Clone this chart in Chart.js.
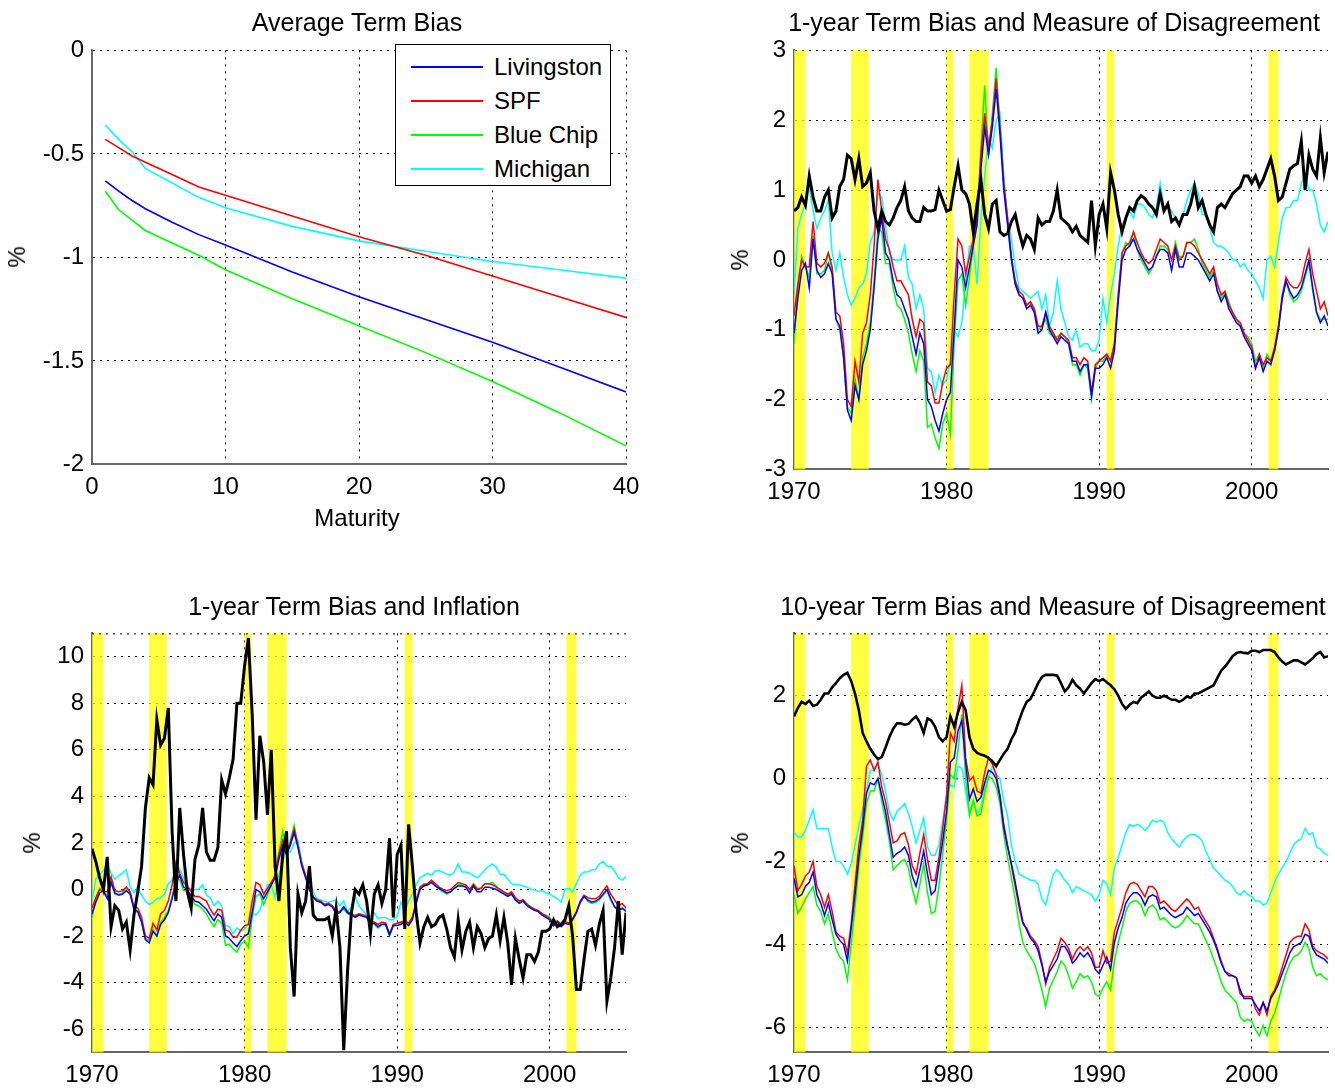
<!DOCTYPE html>
<html>
<head>
<meta charset="utf-8">
<script src="https://cdn.jsdelivr.net/npm/chart.js@4.4.0/dist/chart.umd.min.js"></script>
<style>
body { margin:0; background:#fff; width:1335px; height:1088px; position:relative; overflow:hidden; font-family:"Liberation Sans", Arial, sans-serif; color:#000; }
canvas { position:absolute; }
.title { position:absolute; font-size:25px; white-space:nowrap; transform:translate(-50%,-50%); }
.ylab { position:absolute; font-size:24px; transform:translate(-50%,-50%) rotate(-90deg); }
.xlab { position:absolute; font-size:24px; transform:translate(-50%,-50%); }
#legend { position:absolute; left:395px; top:44px; width:214px; height:140px; border:1px solid #000; background:#fff; }
#legend .ln { position:absolute; left:15px; width:72px; height:2px; }
#legend .tx { position:absolute; left:98px; font-size:24px; transform:translateY(-50%); white-space:nowrap; }
</style>
</head>
<body>
<canvas id="avg"></canvas>
<canvas id="dis1"></canvas>
<canvas id="infl"></canvas>
<canvas id="dis10"></canvas>

<div class="title" style="left:357px;top:22px">Average Term Bias</div>
<div class="title" style="left:1054px;top:22px">1-year Term Bias and Measure of Disagreement</div>
<div class="title" style="left:354px;top:606px">1-year Term Bias and Inflation</div>
<div class="title" style="left:1053px;top:606px">10-year Term Bias and Measure of Disagreement</div>
<div class="ylab" style="left:17px;top:257px">%</div>
<div class="ylab" style="left:740px;top:260px">%</div>
<div class="ylab" style="left:32px;top:843px">%</div>
<div class="ylab" style="left:740px;top:843px">%</div>
<div class="xlab" style="left:357px;top:518px">Maturity</div>
<div id="legend"></div>

<script>
// ---- data ----
const seriesNames = ["Livingston", "SPF", "Blue Chip", "Michigan"]
const seriesColors = ["#0000ff", "#ff0000", "#00ff00", "#00ffff"]

// average term bias by maturity (years)
const maturities = [1, 2, 3, 4, 6, 8, 10, 15, 20, 25, 30, 35, 40]
const avgLivingston = [-0.63, -0.68, -0.725, -0.765, -0.83, -0.89, -0.94, -1.07, -1.19, -1.30, -1.41, -1.53, -1.65]
const avgSPF = [-0.43, -0.47, -0.51, -0.54, -0.60, -0.66, -0.70, -0.80, -0.90, -0.99, -1.09, -1.19, -1.29]
const avgBlueChip = [-0.68, -0.77, -0.82, -0.87, -0.93, -0.99, -1.06, -1.20, -1.33, -1.46, -1.60, -1.75, -1.91]
const avgMichigan = [-0.36, -0.43, -0.49, -0.57, -0.64, -0.71, -0.76, -0.85, -0.92, -0.97, -1.02, -1.06, -1.10]

// quarterly dates 1970Q1 .. 2005Q1
const quarters = []
for (let q = 0; q <= 140; q++) quarters.push(1970 + q / 4)

// recessions (shaded)
const recessions = [[1970.0, 1970.75], [1973.75, 1974.9], [1980.0, 1980.45], [1981.5, 1982.75], [1990.5, 1991.0], [2001.1, 2001.75]]

// 1-year term bias, quarterly
const liv1y = [
  -1.05, -0.55, -0.15, -0.05,
  -0.4, 0.3, -0.15, -0.25,
  -0.2, -0.05, -0.2, -0.85,
  -0.95, -1.4, -2.15, -2.3,
  -1.8, -2.0, -1.5, -1.3,
  -1.0, -0.4, 0.3, 0.6,
  0.1, 0.0, -0.3, -0.5,
  -0.55, -0.7, -0.85, -1.1,
  -1.35, -1.05, -1.2, -2.0,
  -2.1, -2.3, -2.45, -2.2,
  -2.0, -1.9, -1.0, 0.0,
  -0.1, -0.4, -0.1, 0.2,
  0.5, 1.3, 1.9, 1.5,
  1.9, 2.45, 1.8, 1.0,
  0.5, 0.0, -0.35, -0.5,
  -0.55, -0.7, -0.65, -0.75,
  -1.05, -1.0, -0.75, -1.0,
  -1.1, -1.2, -1.1, -1.15,
  -1.2, -1.45, -1.45, -1.6,
  -1.5, -1.5, -1.95, -1.55,
  -1.55, -1.5, -1.4, -1.55,
  -1.3, -0.6, 0.0, 0.15,
  0.2, 0.3, 0.15, 0.05,
  -0.05, -0.15, -0.1, 0.05,
  0.15, 0.15, 0.1, -0.15,
  0.15, -0.1, -0.1, 0.1,
  0.1, 0.05, 0.0, -0.1,
  -0.2, -0.3, -0.2, -0.45,
  -0.6, -0.5, -0.7, -0.8,
  -0.9, -0.95, -1.1, -1.2,
  -1.3, -1.55, -1.4, -1.6,
  -1.45, -1.5, -1.3, -1.0,
  -0.55, -0.3, -0.45, -0.55,
  -0.5, -0.4, -0.2, 0.0,
  -0.4, -0.75, -0.9, -0.8,
  -0.95
]
const spf1y = [
  -0.8, -0.35, 0.0, -0.1,
  -0.1, 0.55, -0.05, -0.1,
  -0.05, 0.1, -0.1, -0.75,
  -0.8, -1.2, -2.0, -2.1,
  -1.45, -1.75, -1.05, -0.9,
  -0.5, 0.2, 1.15, 0.7,
  0.3, 0.15, -0.1, -0.3,
  -0.3, -0.4, -0.5, -0.85,
  -1.1, -0.85, -0.9, -1.75,
  -1.8, -2.05, -2.05, -1.75,
  -1.55, -1.5, -0.5, 0.3,
  0.2, -0.2, 0.05, 0.3,
  0.6, 1.5, 2.1, 1.6,
  2.0, 2.6, 1.9, 1.1,
  0.6, 0.05, -0.3, -0.45,
  -0.5, -0.65, -0.6, -0.7,
  -0.95, -0.95, -0.75, -0.95,
  -1.05, -1.15, -1.05, -1.1,
  -1.15, -1.4, -1.4, -1.5,
  -1.4, -1.45, -1.9, -1.5,
  -1.45, -1.4, -1.35, -1.45,
  -1.2, -0.5, 0.1, 0.2,
  0.25, 0.4, 0.25, 0.1,
  0.0, -0.05, 0.0, 0.15,
  0.3, 0.25, 0.2, 0.0,
  0.2, 0.0, 0.05, 0.25,
  0.25, 0.2, 0.1, 0.0,
  -0.1, -0.2, -0.1, -0.35,
  -0.5, -0.45, -0.65, -0.75,
  -0.85, -0.9, -1.05, -1.15,
  -1.25, -1.55, -1.35, -1.5,
  -1.4, -1.45, -1.25, -0.95,
  -0.5, -0.25, -0.35, -0.4,
  -0.4, -0.3, -0.05, 0.15,
  -0.2, -0.45, -0.7, -0.6,
  -0.8
]
const bc1y = [
  -1.2, -0.4, 0.05, -0.1,
  -0.25, 0.35, -0.2, -0.2,
  -0.15, 0.1, -0.15, -0.85,
  -1.0, -1.4, -2.1, -2.2,
  -1.7, -2.0, -1.4, -1.2,
  -0.9, -0.3, 0.45, 0.4,
  -0.05, -0.05, -0.4, -0.65,
  -0.7, -0.85, -1.05, -1.35,
  -1.6, -1.3, -1.45, -2.4,
  -2.35, -2.55, -2.7, -2.35,
  -2.2, -2.5, -1.2, -0.3,
  -0.2, -0.65, -0.25, 0.2,
  0.6, 1.6, 2.5, 1.5,
  2.1, 2.75, 1.95, 1.1,
  0.55, 0.0, -0.35, -0.5,
  -0.55, -0.65, -0.6, -0.7,
  -1.0, -0.95, -0.85, -1.05,
  -1.1, -1.1, -1.05, -1.1,
  -1.2, -1.5, -1.5, -1.65,
  -1.5, -1.55, -2.0, -1.55,
  -1.45, -1.45, -1.35, -1.45,
  -1.2, -0.5, 0.1, 0.25,
  0.2, 0.4, 0.15, 0.0,
  -0.1, -0.2, -0.1, 0.05,
  0.2, 0.2, 0.15, 0.0,
  0.25, 0.05, 0.05, 0.25,
  0.25, 0.3, 0.15, -0.05,
  -0.15, -0.25, -0.15, -0.45,
  -0.55, -0.45, -0.6, -0.75,
  -0.85, -0.95, -1.05, -1.1,
  -1.2, -1.45, -1.35, -1.55,
  -1.35, -1.45, -1.3, -1.0,
  -0.55, -0.3, -0.5, -0.6,
  -0.55, -0.45, -0.25, -0.05,
  -0.45, -0.75, -0.85, -0.85,
  -0.85
]
const mich1y = [
  -0.5, 0.45, 0.65, 0.8,
  1.05, 0.7, 0.45, 0.6,
  0.7, 0.85, 0.1, -0.15,
  0.1, -0.25, -0.5, -0.65,
  -0.55, -0.4, -0.35, -0.2,
  0.25, 0.4, 0.95, 0.9,
  0.5, 0.1, 0.0, 0.0,
  0.0, 0.2, -0.25, -0.35,
  -0.7, -0.5, -0.7, -1.55,
  -1.6, -1.9, -1.65, -1.8,
  -1.7, -1.45, -1.0, -1.1,
  -0.9, -0.3, 0.2, 0.2,
  -0.35, 0.6, 1.2, 1.75,
  1.6, 2.0, 2.1, 1.2,
  0.6, 0.3, -0.1, -0.4,
  -0.45, -0.5, -0.55, -0.5,
  -0.45, -0.7, -0.5, -0.95,
  -0.75, -0.3, -0.7, -0.9,
  -1.1, -1.15, -1.0, -1.25,
  -1.2, -1.2, -1.3, -1.3,
  -1.15, -0.55, -0.9, -0.5,
  -0.2, 0.2, 0.5, 0.6,
  0.7, 0.6, 0.8, 0.8,
  0.75, 0.65, 0.6, 0.75,
  1.1, 0.75, 0.75, 0.7,
  0.6, 0.5, 0.65, 0.85,
  1.0, 1.1, 0.95, 0.65,
  0.65, 0.45, 0.25, 0.2,
  0.2, 0.15, 0.1, 0.0,
  0.0, -0.1, -0.05, -0.15,
  -0.2, -0.3, -0.4, -0.55,
  0.0, 0.05, -0.1, 0.25,
  0.6, 0.75, 0.75, 0.85,
  0.85, 1.1, 1.2, 1.0,
  1.0, 0.8, 0.5, 0.4,
  0.55
]
// measure of disagreement, 1-year
const disagree1y = [
  0.7, 0.75, 0.9, 0.78,
  1.2, 0.9, 0.7, 0.7,
  0.9, 1.0, 0.6, 0.7,
  1.05, 1.15, 1.5, 1.45,
  1.15, 1.45, 1.05, 1.1,
  1.25, 0.7, 0.45, 0.7,
  0.55, 0.5, 0.6, 0.75,
  0.85, 1.05, 0.7, 0.6,
  0.55, 0.55, 0.75, 0.7,
  0.7, 0.72, 1.0, 0.85,
  0.7, 0.72, 1.05, 1.35,
  1.0, 0.95, 0.8, 0.4,
  0.8, 1.15, 0.65, 0.45,
  0.8, 0.85, 0.4, 0.35,
  0.38, 0.55, 0.65, 0.4,
  0.2, 0.35, 0.3, 0.15,
  0.6, 0.5, 0.55, 0.55,
  0.7, 1.0, 0.6, 0.55,
  0.5, 0.4, 0.48, 0.35,
  0.3, 0.25, 0.85, 0.2,
  0.65, 0.8, 0.45, 1.25,
  1.0, 0.65, 0.4, 0.6,
  0.75, 0.7, 0.85, 0.92,
  0.88, 0.8, 0.75, 0.65,
  0.95, 0.7, 0.8, 0.55,
  0.6, 0.5, 0.65, 0.65,
  0.8, 1.05, 0.75, 0.85,
  0.65, 0.5, 0.4, 0.75,
  0.8, 0.75, 0.85, 0.95,
  1.0, 1.05, 1.2, 1.2,
  1.1, 1.2, 1.05, 1.15,
  1.3, 1.45, 1.2, 0.85,
  0.9, 1.1, 1.3, 1.35,
  1.38, 1.7, 1.0, 1.5,
  1.3, 1.2, 1.75, 1.25,
  1.55
]
// inflation
const inflation = [
  1.75, 1.2, 0.5, 0.0,
  1.4, -1.6, -0.7, -0.9,
  -1.7, -1.4, -2.6, -1.1,
  -0.1, 1.0, 3.5, 4.8,
  4.5, 7.3, 6.2, 6.5,
  7.8, 2.5, -0.5, 3.5,
  1.5, -0.1, -0.8, 1.3,
  1.9, 3.5, 1.6, 1.25,
  1.25, 1.8, 4.7, 4.1,
  4.8, 5.6, 8.0, 8.0,
  9.6, 10.8, 7.5, 3.0,
  6.6, 5.5, 3.2, 6.0,
  1.0, -0.5, 1.5, 2.5,
  -2.5, -4.6, -0.2, -1.0,
  -0.5, 1.0, -1.1, -1.3,
  -1.3, -1.3, -1.2, -2.0,
  -0.8, -2.5, -6.9, -3.5,
  -1.0, 0.0, -0.2, 0.2,
  -0.5, -1.9, -0.2, 0.2,
  -0.6, 0.0, 2.2, -1.2,
  1.5, 1.9, -1.7, 2.8,
  1.0, -1.0, -2.3, -1.6,
  -1.2, -1.6, -1.5, -1.2,
  -1.1, -1.7, -2.5, -2.9,
  -1.3, -2.6, -1.8, -1.4,
  -2.5, -1.6, -1.9, -2.5,
  -2.1, -2.0, -1.1, -2.2,
  -1.2, -2.3, -4.1, -2.1,
  -3.0, -3.8, -2.8, -2.8,
  -3.1, -2.7, -1.8, -1.8,
  -1.7, -1.3, -1.6, -1.5,
  -1.3, -0.7, -2.0, -4.3,
  -4.3, -3.0, -1.8, -1.7,
  -2.4, -1.5, -0.9, -4.8,
  -3.8, -2.5, -0.5, -2.8,
  -1.0
]

// 10-year term bias, quarterly
const liv10y = [
  -2.4, -2.85, -2.8, -2.6,
  -2.5, -2.25, -2.8, -3.0,
  -3.3, -3.0, -3.4, -3.75,
  -3.9, -4.0, -4.4, -3.6,
  -2.8, -1.9, -1.2, -0.35,
  -0.1, -0.15, 0.0, -0.4,
  -0.8, -1.35, -1.9, -1.8,
  -1.75, -1.65, -1.85, -2.35,
  -2.6, -2.2, -1.75, -2.3,
  -2.8, -2.7, -2.1, -1.5,
  -0.8, 0.4, 0.5, 1.15,
  1.4, 0.4, -0.5, -0.25,
  -0.55, -0.45, -0.1, 0.2,
  0.15, 0.0, -0.45, -1.2,
  -1.65, -2.05, -2.5, -3.0,
  -3.45, -3.65, -3.85, -3.95,
  -4.15, -4.5, -4.9, -4.65,
  -4.5, -4.35, -4.05, -4.05,
  -4.2, -4.45, -4.35, -4.2,
  -4.3, -4.2, -4.35, -4.6,
  -4.7, -4.5, -4.3, -4.6,
  -3.95, -3.6, -3.35, -3.0,
  -2.85, -2.75, -2.75, -2.85,
  -3.05, -2.85, -2.8, -2.85,
  -3.15, -3.1, -3.2, -3.3,
  -3.35, -3.3, -3.25, -3.1,
  -3.2, -3.3, -3.25, -3.4,
  -3.55, -3.7, -3.9, -4.15,
  -4.45, -4.65, -4.75, -4.75,
  -4.8, -5.1, -5.3, -5.3,
  -5.3, -5.45, -5.6, -5.4,
  -5.6, -5.3, -5.15, -4.95,
  -4.7, -4.45, -4.2, -4.05,
  -4.0, -3.95, -3.75, -3.8,
  -4.1, -4.25, -4.3, -4.35,
  -4.45
]
const spf10y = [
  -2.1, -2.7, -2.55, -2.35,
  -2.25, -2.0, -2.6, -2.8,
  -3.1, -2.8, -3.2, -3.7,
  -3.8, -3.85, -4.2, -3.5,
  -2.55, -1.6, -1.0, 0.3,
  0.45, 0.2, 0.4, -0.2,
  -0.55, -1.05, -1.55, -1.5,
  -1.35, -1.3, -1.6, -2.1,
  -2.3, -1.8, -1.35, -1.95,
  -2.45, -2.45, -1.9, -1.2,
  -0.4, 1.1, 0.9, 1.7,
  2.25, 0.5, -0.05, 0.05,
  -0.3, -0.35, 0.15, 0.5,
  0.35, 0.1, -0.4, -1.1,
  -1.6, -2.1, -2.6, -3.1,
  -3.5, -3.6, -3.8, -3.9,
  -4.05, -4.45, -4.95, -4.55,
  -4.35, -4.15, -3.85, -3.95,
  -4.1, -4.35, -4.15, -4.05,
  -4.15, -4.05, -4.2, -4.55,
  -4.55, -4.15, -4.45, -4.4,
  -3.7, -3.4, -3.1, -2.75,
  -2.55, -2.5, -2.55, -2.7,
  -2.85, -2.6, -2.6, -2.7,
  -3.0, -2.95, -3.05, -3.15,
  -3.2, -3.1, -3.0, -2.9,
  -3.0, -3.15, -3.1, -3.3,
  -3.45, -3.6, -3.85, -4.1,
  -4.4, -4.65, -4.7, -4.75,
  -4.8, -5.2, -5.25, -5.25,
  -5.25, -5.55, -5.7, -5.4,
  -5.7, -5.25, -5.1, -4.85,
  -4.55, -4.25, -3.95, -3.85,
  -3.8, -3.8, -3.5, -3.65,
  -4.05, -4.15, -4.2, -4.25,
  -4.35
]
const bc10y = [
  -2.8, -3.25, -3.1, -2.9,
  -2.75, -2.6, -3.05, -3.2,
  -3.5, -3.25, -3.7, -4.1,
  -4.3, -4.4, -4.85, -4.0,
  -3.1, -2.1, -1.4, -0.6,
  -0.3, -0.3, 0.0, -0.55,
  -1.0, -1.5, -2.2, -2.1,
  -2.0, -1.95, -2.15, -2.65,
  -3.0, -2.55, -2.05, -2.75,
  -3.25, -3.2, -2.6, -1.8,
  -1.0, 0.1, 0.0, 0.7,
  1.55, 0.0, -0.85, -0.55,
  -0.9, -0.85, -0.35, 0.05,
  0.0, -0.2, -0.6, -1.35,
  -1.9, -2.4, -2.9, -3.5,
  -3.95, -4.15, -4.3, -4.45,
  -4.75, -5.1, -5.5, -5.05,
  -4.85, -4.65, -4.4, -4.5,
  -4.75, -5.05, -4.9, -4.7,
  -4.8, -4.75, -4.9, -5.2,
  -5.25, -5.05, -4.9, -5.1,
  -4.4, -3.95, -3.6, -3.2,
  -3.0, -2.95, -2.95, -3.05,
  -3.3, -3.1, -3.05, -3.15,
  -3.4, -3.35, -3.45, -3.55,
  -3.6, -3.55, -3.45, -3.3,
  -3.4, -3.5, -3.5, -3.7,
  -3.9, -4.1, -4.35, -4.6,
  -4.9, -5.1, -5.2, -5.3,
  -5.4, -5.75, -5.85, -5.8,
  -5.85, -6.05, -6.2, -5.95,
  -6.2, -5.85, -5.65, -5.35,
  -5.0, -4.7, -4.45, -4.3,
  -4.25, -4.15, -3.95, -4.1,
  -4.55, -4.75, -4.7, -4.8,
  -4.85
]
const mich10y = [
  -1.3, -1.4, -1.4, -1.25,
  -1.0, -0.75, -1.2, -1.2,
  -1.2, -1.2, -1.65, -2.0,
  -2.0, -2.1, -2.3, -2.05,
  -1.6, -1.15, -0.75, -0.3,
  0.2, 0.2, 0.35, 0.1,
  -0.3, -0.8, -1.0, -0.8,
  -0.7, -0.6, -0.85, -1.15,
  -1.55, -1.25, -0.95, -1.65,
  -1.85, -1.85, -1.6, -1.0,
  -0.4, -0.15, -0.2, 0.3,
  0.25, -0.3, -0.9, -0.5,
  -0.85, -0.7, -0.25, 0.0,
  0.3, 0.1, 0.0, -0.55,
  -0.9, -1.6, -2.0, -2.3,
  -2.35, -2.4, -2.45, -2.45,
  -2.55, -2.9, -3.05, -2.65,
  -2.3, -2.2, -2.3, -2.45,
  -2.55, -2.75, -2.6, -2.65,
  -2.7, -2.75, -2.8, -2.95,
  -2.8, -2.45, -2.55, -2.8,
  -2.15, -1.9, -1.6, -1.3,
  -1.1, -1.15, -1.1, -1.15,
  -1.25, -1.15, -1.0, -1.05,
  -1.0, -1.05, -1.3, -1.45,
  -1.55, -1.65, -1.5, -1.4,
  -1.35, -1.35, -1.4, -1.5,
  -1.75, -1.95, -2.15, -2.25,
  -2.35, -2.45, -2.5, -2.6,
  -2.75, -2.8, -2.7, -2.8,
  -2.85, -2.95, -2.95, -3.05,
  -3.0, -2.75, -2.5, -2.3,
  -2.15, -2.0, -1.8, -1.6,
  -1.5, -1.45, -1.2, -1.35,
  -1.3, -1.65, -1.7, -1.8,
  -1.85
]
// measure of disagreement, 10-year
const disagree10y = [
  1.5, 1.7, 1.85, 1.8,
  1.88, 1.75, 1.78, 1.9,
  2.05, 2.05, 2.2, 2.3,
  2.42, 2.5, 2.55, 2.35,
  2.05, 1.65, 1.1, 0.9,
  0.72, 0.58, 0.47, 0.52,
  0.75, 1.0, 1.2, 1.33,
  1.33, 1.3, 1.32, 1.42,
  1.5, 1.35, 1.1, 1.45,
  1.4, 1.25, 1.0, 0.9,
  1.0, 1.5, 1.25, 1.6,
  1.85, 1.65, 1.0, 0.72,
  0.62, 0.58, 0.55, 0.5,
  0.42, 0.3, 0.45, 0.6,
  0.72, 0.95, 1.12, 1.4,
  1.65, 1.85, 1.92, 2.1,
  2.3, 2.45, 2.5, 2.5,
  2.5, 2.48, 2.3, 2.1,
  2.2, 2.38, 2.25, 2.17,
  2.05, 2.18, 2.3, 2.4,
  2.35, 2.4, 2.32, 2.25,
  2.15, 2.0, 1.8, 1.68,
  1.78, 1.85, 1.82, 1.95,
  2.02, 2.1, 2.0, 1.95,
  1.95, 2.0, 1.95, 1.9,
  1.9, 1.85, 1.9, 1.98,
  1.95, 2.05, 2.05, 2.1,
  2.15, 2.2, 2.25, 2.43,
  2.6, 2.7, 2.82, 2.95,
  3.03, 3.05, 3.03, 3.02,
  3.08, 3.08, 3.05, 3.1,
  3.1, 3.1, 3.05, 2.92,
  2.82, 2.75, 2.8, 2.85,
  2.85, 2.8, 2.75, 2.82,
  2.9, 3.0, 3.05, 2.92,
  2.95
]

// ---- drawing ----
const FONT = '"Liberation Sans", Arial, sans-serif'
Chart.defaults.font.family = FONT
Chart.defaults.color = "#000"

// yellow recession bars + dotted top edge, drawn under the lines
const bandPlugin = {
  id: "bands",
  beforeDatasetsDraw(chart, args, opts) {
    const {ctx, chartArea: a, scales: {x}} = chart
    ctx.save()
    ctx.fillStyle = "rgba(255,255,0,0.75)"
    for (const [s, e] of (opts.list || [])) {
      const x1 = Math.max(x.getPixelForValue(s), a.left)
      const x2 = Math.min(x.getPixelForValue(e), a.right)
      ctx.fillRect(x1, a.top, x2 - x1, a.bottom - a.top)
    }
    if (opts.topLine) {
      ctx.strokeStyle = "#000"
      ctx.lineWidth = 1
      ctx.setLineDash([2, 5])
      ctx.beginPath()
      ctx.moveTo(a.left, a.top + 0.5)
      ctx.lineTo(a.right, a.top + 0.5)
      ctx.stroke()
    }
    ctx.restore()
  }
}

function pts(xs, ys) {
  return xs.map((x, i) => ({x: x, y: ys[i]}))
}

function line(xs, ys, color, width) {
  return {data: pts(xs, ys), borderColor: color, borderWidth: width, pointRadius: 0, tension: 0, fill: false}
}

function axis(min, max, ticks, fitSize, pad) {
  return {
    type: "linear", min: min, max: max,
    afterBuildTicks: s => { s.ticks = ticks.map(v => ({value: v})) },
    afterFit: s => { if (s.isHorizontal()) s.height = fitSize; else s.width = fitSize },
    grid: {color: "#000", lineWidth: 1, drawTicks: false},
    border: {display: true, color: "#666", width: 2, dash: [2, 5]},
    ticks: {padding: pad, font: {size: 24}, color: "#000", autoSkip: false, maxRotation: 0, callback: v => String(v)}
  }
}

function makePanel(id, rect, xs, ys, datasets, bandOpts) {
  const L = 80, T = 16, R = 30, B = 50
  const cv = document.getElementById(id)
  const pw = rect.right - rect.left, ph = rect.bottom - rect.top
  cv.width = pw + L + R
  cv.height = ph + T + B
  const chart = new Chart(cv, {
    type: "line",
    data: {datasets: datasets},
    options: {
      responsive: false,
      maintainAspectRatio: false,
      animation: false,
      layout: {padding: {left: 0, top: T, right: R, bottom: 0}},
      scales: {
        x: axis(xs[0], xs[1], xs[2], B, 9),
        y: axis(ys[0], ys[1], ys[2], L, 8)
      },
      plugins: {legend: {display: false}, tooltip: {enabled: false}, bands: bandOpts}
    },
    plugins: [bandPlugin]
  })
  // the layout may add room for tick labels: resize so the plot box lands on rect
  const a = chart.chartArea
  const extraR = chart.width - a.right, extraB = chart.height - a.bottom
  chart.resize(a.left + pw + extraR, a.top + ph + extraB)
  const b = chart.chartArea
  cv.style.left = (rect.left - b.left) + "px"
  cv.style.top = (rect.top - b.top) + "px"
  return chart
}

const yearTicks = [1970, 1980, 1990, 2000]

makePanel("avg", {left: 92, right: 626, top: 50, bottom: 464},
  [0, 40, [0, 10, 20, 30, 40]], [-2, 0, [-2, -1.5, -1, -0.5, 0]],
  [
    line(maturities, avgLivingston, seriesColors[0], 1.6),
    line(maturities, avgSPF, seriesColors[1], 1.6),
    line(maturities, avgBlueChip, seriesColors[2], 1.6),
    line(maturities, avgMichigan, seriesColors[3], 1.6)
  ],
  {list: [], topLine: false})

makePanel("dis1", {left: 794, right: 1328, top: 50, bottom: 469},
  [1970, 2005, yearTicks], [-3, 3, [-3, -2, -1, 0, 1, 2, 3]],
  [
    line(quarters, disagree1y, "#000", 3),
    line(quarters, liv1y, seriesColors[0], 1.5),
    line(quarters, spf1y, seriesColors[1], 1.5),
    line(quarters, bc1y, seriesColors[2], 1.5),
    line(quarters, mich1y, seriesColors[3], 1.5)
  ],
  {list: recessions, topLine: false})

makePanel("infl", {left: 92, right: 626, top: 633, bottom: 1052},
  [1970, 2005, yearTicks], [-7, 11, [-6, -4, -2, 0, 2, 4, 6, 8, 10]],
  [
    line(quarters, inflation, "#000", 3),
    line(quarters, liv1y, seriesColors[0], 1.5),
    line(quarters, spf1y, seriesColors[1], 1.5),
    line(quarters, bc1y, seriesColors[2], 1.5),
    line(quarters, mich1y, seriesColors[3], 1.5)
  ],
  {list: recessions, topLine: true})

makePanel("dis10", {left: 794, right: 1328, top: 633, bottom: 1052},
  [1970, 2005, yearTicks], [-6.6, 3.5, [-6, -4, -2, 0, 2]],
  [
    line(quarters, disagree10y, "#000", 2.6),
    line(quarters, liv10y, seriesColors[0], 1.5),
    line(quarters, spf10y, seriesColors[1], 1.5),
    line(quarters, bc10y, seriesColors[2], 1.5),
    line(quarters, mich10y, seriesColors[3], 1.5)
  ],
  {list: recessions, topLine: true})

// legend for the first panel
const legend = document.getElementById("legend")
seriesNames.forEach((name, i) => {
  const y = 22 + i * 34
  const ln = document.createElement("div")
  ln.className = "ln"
  ln.style.top = (y - 1) + "px"
  ln.style.background = seriesColors[i]
  legend.appendChild(ln)
  const tx = document.createElement("div")
  tx.className = "tx"
  tx.style.top = y + "px"
  tx.textContent = name
  legend.appendChild(tx)
})
</script>
</body>
</html>
